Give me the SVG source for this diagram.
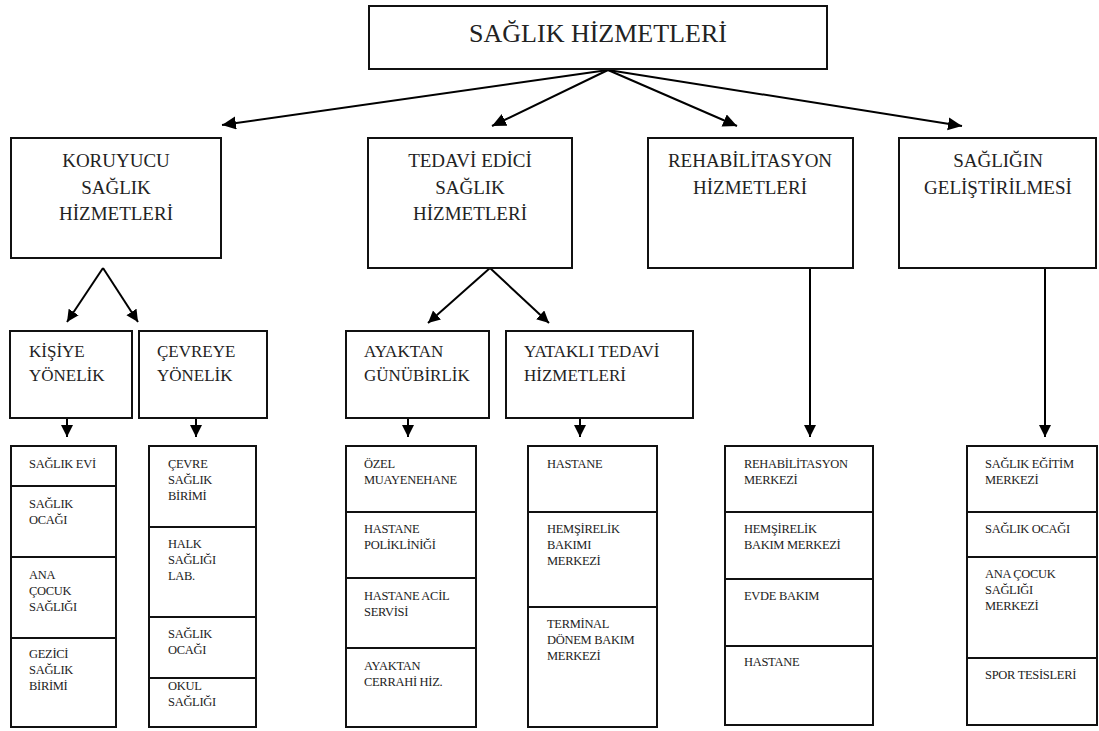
<svg xmlns="http://www.w3.org/2000/svg" width="1099" height="731" viewBox="0 0 1099 731">
<defs>
<style>
.box{fill:#fff;stroke:#111;stroke-width:2}
.div{stroke:#111;stroke-width:2}
.con{stroke:#000;stroke-width:2;fill:none}
.t1{font-family:"Liberation Serif","Times New Roman",serif;font-size:26px;fill:#222;text-anchor:middle}
.t2{font-family:"Liberation Serif","Times New Roman",serif;font-size:19px;fill:#222;text-anchor:middle}
.t3{font-family:"Liberation Serif","Times New Roman",serif;font-size:17px;fill:#222}
.t4{font-family:"Liberation Serif","Times New Roman",serif;font-size:12.5px;letter-spacing:-0.3px;fill:#222}
</style>
<marker id="ah" markerUnits="userSpaceOnUse" markerWidth="15" markerHeight="14" refX="14" refY="6.5" orient="auto">
<path d="M0,0 L14,6.5 L0,13 z" fill="#000"/>
</marker>
<marker id="as" markerUnits="userSpaceOnUse" markerWidth="13" markerHeight="13" refX="12" refY="6" orient="auto">
<path d="M0,0 L12,6 L0,12 z" fill="#000"/>
</marker>
</defs>
<rect width="1099" height="731" fill="#fff"/>

<g id="connectors">
<line class="con" x1="608" y1="70" x2="222" y2="125" marker-end="url(#ah)"/>
<line class="con" x1="608" y1="70" x2="492" y2="126" marker-end="url(#ah)"/>
<line class="con" x1="608" y1="70" x2="737" y2="126" marker-end="url(#ah)"/>
<line class="con" x1="608" y1="70" x2="962" y2="126" marker-end="url(#ah)"/>
<line class="con" x1="103" y1="268" x2="67" y2="322" marker-end="url(#as)"/>
<line class="con" x1="103" y1="268" x2="138" y2="322" marker-end="url(#as)"/>
<line class="con" x1="490" y1="268" x2="428" y2="323" marker-end="url(#as)"/>
<line class="con" x1="490" y1="268" x2="549" y2="323" marker-end="url(#as)"/>
<line class="con" x1="67" y1="418" x2="67" y2="437" marker-end="url(#as)"/>
<line class="con" x1="196" y1="418" x2="196" y2="437" marker-end="url(#as)"/>
<line class="con" x1="408" y1="418" x2="408" y2="437" marker-end="url(#as)"/>
<line class="con" x1="580" y1="418" x2="580" y2="437" marker-end="url(#as)"/>
<line class="con" x1="810" y1="268" x2="810" y2="437" marker-end="url(#as)"/>
<line class="con" x1="1045" y1="268" x2="1045" y2="437" marker-end="url(#as)"/>
</g>

<g id="saglik-hizmetleri">
<rect class="box" x="369" y="6" width="458" height="63"/>
<text class="t1" x="598" y="42">SAĞLIK HİZMETLERİ</text>
</g>

<g id="koruyucu">
<rect class="box" x="11" y="138" width="210" height="120"/>
<text class="t2" x="116" y="167">KORUYUCU</text>
<text class="t2" x="116" y="194">SAĞLIK</text>
<text class="t2" x="116" y="220">HİZMETLERİ</text>
</g>

<g id="tedavi">
<rect class="box" x="368" y="138" width="204" height="130"/>
<text class="t2" x="470" y="167">TEDAVİ EDİCİ</text>
<text class="t2" x="470" y="194">SAĞLIK</text>
<text class="t2" x="470" y="220">HİZMETLERİ</text>
</g>

<g id="rehabilitasyon">
<rect class="box" x="648" y="138" width="205" height="130"/>
<text class="t2" x="750" y="167">REHABİLİTASYON</text>
<text class="t2" x="750" y="194">HİZMETLERİ</text>
</g>

<g id="sagligin-gelistirilmesi">
<rect class="box" x="899" y="138" width="197" height="130"/>
<text class="t2" x="998" y="167">SAĞLIĞIN</text>
<text class="t2" x="998" y="194">GELİŞTİRİLMESİ</text>
</g>

<g id="kisiye">
<rect class="box" x="10" y="331" width="122" height="87"/>
<text class="t3" x="29" y="357">KİŞİYE</text>
<text class="t3" x="29" y="381">YÖNELİK</text>
</g>

<g id="cevreye">
<rect class="box" x="139" y="331" width="128" height="87"/>
<text class="t3" x="157" y="357">ÇEVREYE</text>
<text class="t3" x="157" y="381">YÖNELİK</text>
</g>

<g id="ayaktan">
<rect class="box" x="346" y="331" width="143" height="87"/>
<text class="t3" x="364" y="357">AYAKTAN</text>
<text class="t3" x="364" y="381">GÜNÜBİRLİK</text>
</g>

<g id="yatakli">
<rect class="box" x="506" y="331" width="187" height="87"/>
<text class="t3" x="524" y="357">YATAKLI TEDAVİ</text>
<text class="t3" x="524" y="381">HİZMETLERİ</text>
</g>

<g id="kisiye-list">
<rect class="box" x="11" y="446" width="105" height="281"/>
<line class="div" x1="11" y1="486" x2="116" y2="486"/>
<line class="div" x1="11" y1="557" x2="116" y2="557"/>
<line class="div" x1="11" y1="638" x2="116" y2="638"/>
<text class="t4" x="29" y="468">SAĞLIK EVİ</text>
<text class="t4" x="29" y="508">SAĞLIK</text>
<text class="t4" x="29" y="524">OCAĞI</text>
<text class="t4" x="29" y="579">ANA</text>
<text class="t4" x="29" y="595">ÇOCUK</text>
<text class="t4" x="29" y="611">SAĞLIĞI</text>
<text class="t4" x="29" y="658">GEZİCİ</text>
<text class="t4" x="29" y="674">SAĞLIK</text>
<text class="t4" x="29" y="690">BİRİMİ</text>
</g>

<g id="cevreye-list">
<rect class="box" x="149" y="446" width="107" height="281"/>
<line class="div" x1="149" y1="527" x2="256" y2="527"/>
<line class="div" x1="149" y1="617" x2="256" y2="617"/>
<line class="div" x1="149" y1="678" x2="256" y2="678"/>
<text class="t4" x="168" y="468">ÇEVRE</text>
<text class="t4" x="168" y="484">SAĞLIK</text>
<text class="t4" x="168" y="500">BİRİMİ</text>
<text class="t4" x="168" y="548">HALK</text>
<text class="t4" x="168" y="564">SAĞLIĞI</text>
<text class="t4" x="168" y="580">LAB.</text>
<text class="t4" x="168" y="638">SAĞLIK</text>
<text class="t4" x="168" y="654">OCAĞI</text>
<text class="t4" x="168" y="690">OKUL</text>
<text class="t4" x="168" y="706">SAĞLIĞI</text>
</g>

<g id="ayaktan-list">
<rect class="box" x="346" y="446" width="130" height="281"/>
<line class="div" x1="346" y1="512" x2="476" y2="512"/>
<line class="div" x1="346" y1="578" x2="476" y2="578"/>
<line class="div" x1="346" y1="648" x2="476" y2="648"/>
<text class="t4" x="364" y="468">ÖZEL</text>
<text class="t4" x="364" y="484">MUAYENEHANE</text>
<text class="t4" x="364" y="533">HASTANE</text>
<text class="t4" x="364" y="549">POLİKLİNİĞİ</text>
<text class="t4" x="364" y="600">HASTANE ACİL</text>
<text class="t4" x="364" y="616">SERVİSİ</text>
<text class="t4" x="364" y="670">AYAKTAN</text>
<text class="t4" x="364" y="686">CERRAHİ HİZ.</text>
</g>

<g id="yatakli-list">
<rect class="box" x="528" y="446" width="129" height="281"/>
<line class="div" x1="528" y1="512" x2="657" y2="512"/>
<line class="div" x1="528" y1="607" x2="657" y2="607"/>
<text class="t4" x="547" y="468">HASTANE</text>
<text class="t4" x="547" y="533">HEMŞİRELİK</text>
<text class="t4" x="547" y="549">BAKIMI</text>
<text class="t4" x="547" y="565">MERKEZİ</text>
<text class="t4" x="547" y="628">TERMİNAL</text>
<text class="t4" x="547" y="644">DÖNEM BAKIM</text>
<text class="t4" x="547" y="660">MERKEZİ</text>
</g>

<g id="rehabilitasyon-list">
<rect class="box" x="725" y="446" width="148" height="279"/>
<line class="div" x1="725" y1="512" x2="873" y2="512"/>
<line class="div" x1="725" y1="579" x2="873" y2="579"/>
<line class="div" x1="725" y1="646" x2="873" y2="646"/>
<text class="t4" x="744" y="468">REHABİLİTASYON</text>
<text class="t4" x="744" y="484">MERKEZİ</text>
<text class="t4" x="744" y="533">HEMŞİRELİK</text>
<text class="t4" x="744" y="549">BAKIM MERKEZİ</text>
<text class="t4" x="744" y="600">EVDE BAKIM</text>
<text class="t4" x="744" y="666">HASTANE</text>
</g>

<g id="gelistirme-list">
<rect class="box" x="967" y="446" width="130" height="279"/>
<line class="div" x1="967" y1="512" x2="1097" y2="512"/>
<line class="div" x1="967" y1="557" x2="1097" y2="557"/>
<line class="div" x1="967" y1="658" x2="1097" y2="658"/>
<text class="t4" x="985" y="468">SAĞLIK EĞİTİM</text>
<text class="t4" x="985" y="484">MERKEZİ</text>
<text class="t4" x="985" y="533">SAĞLIK OCAĞI</text>
<text class="t4" x="985" y="578">ANA ÇOCUK</text>
<text class="t4" x="985" y="594">SAĞLIĞI</text>
<text class="t4" x="985" y="610">MERKEZİ</text>
<text class="t4" x="985" y="679">SPOR TESİSLERİ</text>
</g>
</svg>
